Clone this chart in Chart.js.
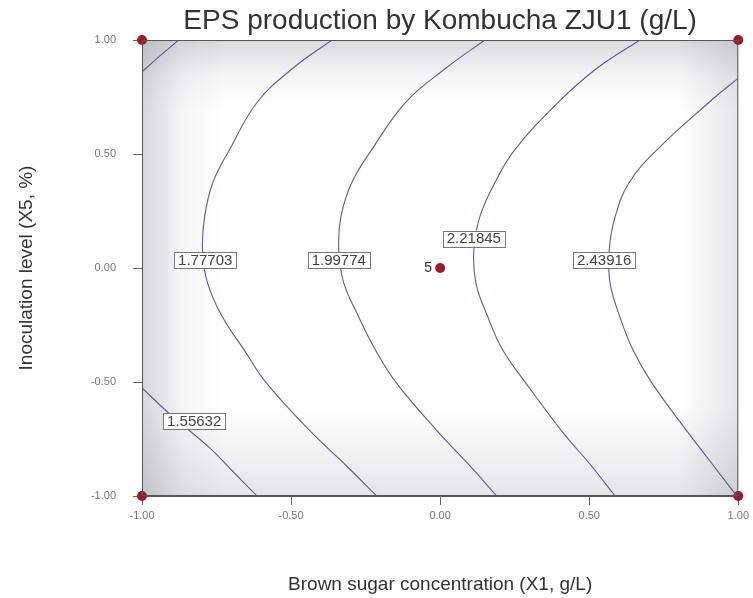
<!DOCTYPE html>
<html>
<head>
<meta charset="utf-8">
<script src="https://cdn.jsdelivr.net/npm/chart.js@4"></script>
<style>
  html, body { margin: 0; padding: 0; background: #fff; }
  #wrap { width: 753px; height: 598px; }
</style>
</head>
<body>
<div id="wrap"><canvas id="chart" width="753" height="598"></canvas></div>
<script>
// axis ticks (coded levels)
const xTicks = [-1, -0.5, 0, 0.5, 1];
const yTicks = [-1, -0.5, 0, 0.5, 1];

// design points (X1, X5)
const designX = [-1, -1, 1, 1, 0];
const designY = [-1, 1, -1, 1, 0];
const designLabels = ["", "", "", "", "5"];

// contour lines (coded X1, X5)
const c1_55632topX = [-0.877, -0.94, -1.0];
const c1_55632topY = [1.0, 0.93, 0.86];
const c1_55632botX = [-1.0, -0.903, -0.773, -0.70, -0.617];
const c1_55632botY = [-0.526, -0.645, -0.789, -0.886, -0.996];

const c1_77703X = [-0.363, -0.493, -0.613, -0.707, -0.763, -0.79, -0.797, -0.78, -0.73, -0.657, -0.583, -0.433, -0.317, -0.213];
const c1_77703Y = [1.0, 0.877, 0.728, 0.518, 0.373, 0.224, 0.079, -0.066, -0.215, -0.36, -0.504, -0.719, -0.864, -1.0];

const c1_99774X = [0.15, 0.02, -0.115, -0.23, -0.297, -0.333, -0.34, -0.323, -0.273, -0.217, -0.147, -0.007, 0.097, 0.19];
const c1_99774Y = [1.0, 0.877, 0.728, 0.518, 0.373, 0.224, 0.079, -0.066, -0.215, -0.36, -0.504, -0.719, -0.864, -1.0];

const c2_21845X = [0.67, 0.527, 0.397, 0.25, 0.183, 0.133, 0.113, 0.12, 0.16, 0.21, 0.287, 0.41, 0.505, 0.587];
const c2_21845Y = [1.0, 0.877, 0.728, 0.518, 0.373, 0.224, 0.079, -0.066, -0.215, -0.36, -0.504, -0.719, -0.864, -1.0];

const c2_43916X = [1.0, 0.903, 0.727, 0.633, 0.587, 0.567, 0.57, 0.603, 0.647, 0.71, 0.83, 0.915, 0.993];
const c2_43916Y = [0.833, 0.728, 0.518, 0.373, 0.224, 0.079, -0.066, -0.215, -0.36, -0.504, -0.719, -0.864, -0.996];

// contour level labels and where they sit
const levelText = ["1.55632", "1.77703", "1.99774", "2.21845", "2.43916"];
const levelX = [-0.825, -0.788, -0.34, 0.113, 0.55];
const levelY = [-0.673, 0.033, 0.033, 0.129, 0.033];

const FONT = "'Liberation Sans', Arial, sans-serif";
const lineColor = "#585c9c";

function pts(xs, ys) {
  return xs.map(function (x, i) { return { x: x, y: ys[i] }; });
}

function contour(xs, ys) {
  return {
    data: pts(xs, ys),
    showLine: true,
    borderColor: lineColor,
    borderWidth: 1.1,
    pointRadius: 0,
    tension: 0.4,
    fill: false,
  };
}

const shading = {
  id: "shading",
  beforeDraw(chart) {
    const { ctx, chartArea: a } = chart;
    ctx.save();
    ctx.fillStyle = "#fff";
    ctx.fillRect(0, 0, chart.width, chart.height);
    let g = ctx.createLinearGradient(a.left, 0, a.right, 0);
    g.addColorStop(0, "rgba(70,70,90,0.22)");
    g.addColorStop(0.07, "rgba(70,70,90,0.05)");
    g.addColorStop(0.14, "rgba(70,70,90,0)");
    g.addColorStop(0.9, "rgba(70,70,90,0)");
    g.addColorStop(1, "rgba(70,70,90,0.14)");
    ctx.fillStyle = g;
    ctx.fillRect(a.left, a.top, a.width, a.height);
    g = ctx.createLinearGradient(0, a.top, 0, a.bottom);
    g.addColorStop(0, "rgba(70,70,90,0.2)");
    g.addColorStop(0.08, "rgba(70,70,90,0.05)");
    g.addColorStop(0.15, "rgba(70,70,90,0)");
    g.addColorStop(0.8, "rgba(70,70,90,0)");
    g.addColorStop(1, "rgba(70,70,90,0.14)");
    ctx.fillStyle = g;
    ctx.fillRect(a.left, a.top, a.width, a.height);
    ctx.restore();
  },
  afterDatasetsDraw(chart) {
    const { ctx, chartArea: a } = chart;
    const xs = chart.scales.x, ys = chart.scales.y;
    ctx.save();
    ctx.strokeStyle = "#555";
    ctx.lineWidth = 1;
    ctx.strokeRect(a.left + 0.5, a.top + 0.5, a.width - 1, a.height - 1);

    // contour labels
    ctx.font = "15px " + FONT;
    ctx.textAlign = "center";
    ctx.textBaseline = "middle";
    levelText.forEach(function (t, i) {
      const px = xs.getPixelForValue(levelX[i]);
      const py = ys.getPixelForValue(levelY[i]);
      const w = ctx.measureText(t).width + 8;
      const h = 16;
      ctx.fillStyle = "#fff";
      ctx.fillRect(px - w / 2, py - h / 2, w, h);
      ctx.strokeStyle = "#777";
      ctx.strokeRect(Math.round(px - w / 2) + 0.5, Math.round(py - h / 2) + 0.5, Math.round(w), h);
      ctx.fillStyle = "#444";
      ctx.fillText(t, px, py + 0.5);
    });

    // design point labels
    ctx.font = "14px " + FONT;
    ctx.textAlign = "right";
    ctx.fillStyle = "#333";
    designLabels.forEach(function (t, i) {
      if (!t) return;
      ctx.fillText(t, xs.getPixelForValue(designX[i]) - 8, ys.getPixelForValue(designY[i]));
    });
    ctx.restore();
  },
};

new Chart(document.getElementById("chart"), {
  type: "scatter",
  data: {
    datasets: [
      contour(c1_55632topX, c1_55632topY),
      contour(c1_55632botX, c1_55632botY),
      contour(c1_77703X, c1_77703Y),
      contour(c1_99774X, c1_99774Y),
      contour(c2_21845X, c2_21845Y),
      contour(c2_43916X, c2_43916Y),
      {
        data: pts(designX, designY),
        pointRadius: 5,
        pointBackgroundColor: "#9c1b24",
        pointBorderWidth: 0,
        showLine: false,
        clip: false,
      },
    ],
  },
  options: {
    responsive: false,
    animation: false,
    layout: { padding: { left: 0, right: 11, top: 0, bottom: 0 } },
    plugins: {
      legend: { display: false },
      tooltip: { enabled: false },
      title: {
        display: true,
        fullSize: false,
        text: "EPS production by Kombucha ZJU1 (g/L)",
        color: "#333",
        font: { family: FONT, size: 28, weight: "normal" },
        padding: { top: 4, bottom: 2.4 },
      },
    },
    scales: {
      x: {
        type: "linear",
        min: -1,
        max: 1,
        afterBuildTicks(scale) { scale.ticks = xTicks.map(function (v) { return { value: v }; }); },
        afterFit(scale) { scale.height = 102; },
        ticks: {
          padding: 4,
          color: "#777",
          font: { family: FONT, size: 11 },
          callback: function (v) { return Number(v).toFixed(2); },
          maxRotation: 0,
        },
        grid: { drawOnChartArea: false, drawTicks: true, tickLength: 9, tickColor: "#666" },
        border: { display: true, color: "#555" },
        title: {
          display: true,
          text: "Brown sugar concentration (X1, g/L)",
          color: "#333",
          font: { family: FONT, size: 19 },
          padding: { top: 0, bottom: 2 },
        },
      },
      y: {
        type: "linear",
        min: -1,
        max: 1,
        afterBuildTicks(scale) { scale.ticks = yTicks.map(function (v) { return { value: v }; }); },
        afterFit(scale) { scale.width = 142; },
        ticks: {
          padding: 17,
          color: "#777",
          font: { family: FONT, size: 11 },
          callback: function (v) { return Number(v).toFixed(2); },
        },
        grid: { drawOnChartArea: false, drawTicks: true, tickLength: 9, tickColor: "#666" },
        border: { display: true, color: "#555" },
        title: {
          display: true,
          text: "Inoculation level (X5, %)",
          color: "#333",
          font: { family: FONT, size: 19 },
          padding: { top: 15, bottom: 0 },
        },
      },
    },
  },
  plugins: [shading],
});
</script>
</body>
</html>
